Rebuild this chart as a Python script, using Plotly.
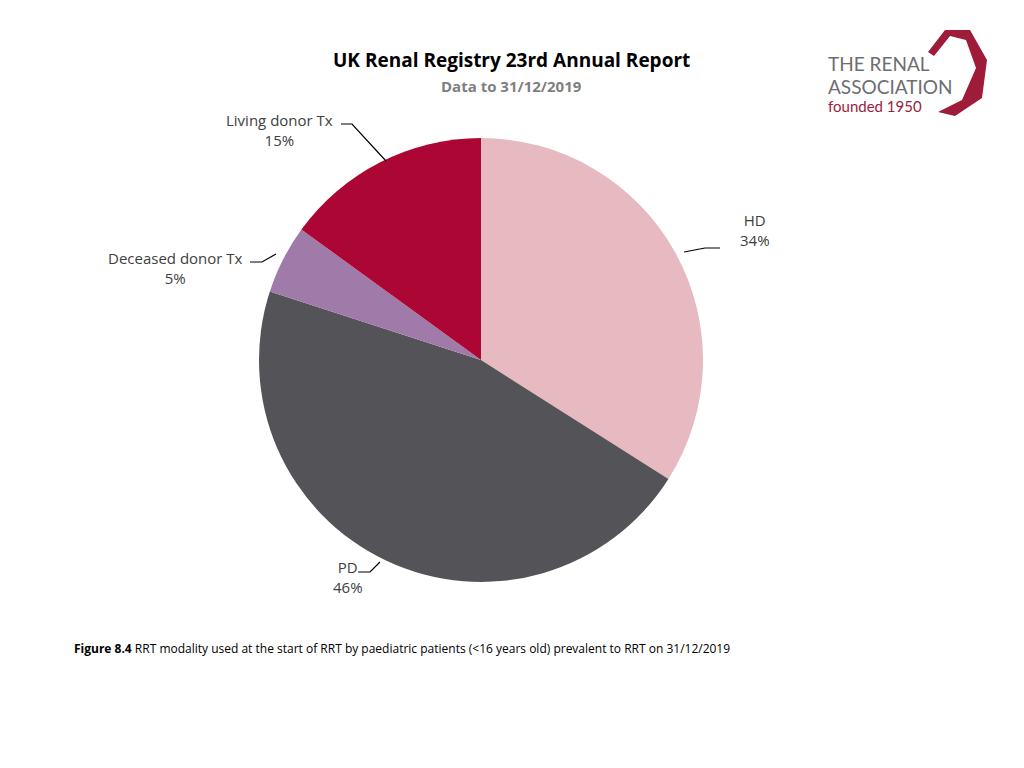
import plotly.graph_objects as go

labels = ["HD", "PD", "Deceased donor Tx", "Living donor Tx"]
values = [34, 46, 5, 15]
colors = ["#E6BAC0", "#545458", "#A07AA8", "#AC0634"]

W, H = 1024, 768
OFF = 8
def px(x, y):
    return (x - OFF) / W, 1 - (y - OFF) / H

fig = go.Figure(go.Pie(
    labels=labels, values=values, sort=False, direction="clockwise", rotation=0,
    marker=dict(colors=colors, line=dict(width=0)), textinfo="none", hoverinfo="label+percent",
    domain=dict(x=[(481-OFF-222)/W, (481-OFF+222)/W], y=[(768-360+OFF-222)/H, (768-360+OFF+222)/H]),
    showlegend=False))

ann = []
def text(x, y, t, size=15, color="#404040", bold=False, xanchor="center", family="Open Sans"):
    xx, yy = px(x, y)
    ann.append(dict(x=xx, y=yy, xref="paper", yref="paper", text=f"<b>{t}</b>" if bold else t,
                    showarrow=False, xanchor=xanchor, yanchor="middle",
                    font=dict(size=size, color=color, family=family)))

text(511, 60, "UK Renal Registry 23rd Annual Report", 19, "#000000", True)
text(511, 86, "Data to 31/12/2019", 15, "#7F7F7F", True)
text(72, 648, "<b>Figure 8.4</b> RRT modality used at the start of RRT by paediatric patients (<16 years old) prevalent to RRT on 31/12/2019",
     12, "#000000", xanchor="left")

pct = {l: f"{v}%" for l, v in zip(labels, values)}
text(279, 130, f"Living donor Tx<br>{pct['Living donor Tx']}", 15)
text(755, 230, f"HD<br>{pct['HD']}", 15)
text(175, 268, f"Deceased donor Tx<br>{pct['Deceased donor Tx']}", 15)
text(348, 577, f"PD<br>{pct['PD']}", 15)

shapes = []
def line(pts):
    path = "M " + " L ".join(f"{px(x,y)[0]},{px(x,y)[1]}" for x, y in pts)
    shapes.append(dict(type="path", path=path, xref="paper", yref="paper",
                       line=dict(color="#000000", width=1.2)))
line([(341, 124), (352, 124), (386, 161)])
line([(720, 248), (705, 248), (684, 252)])
line([(250, 262), (262, 262), (276, 254)])
line([(358, 572), (370, 572), (380, 562)])

# logo
text(826, 63, "THE RENAL", 19, "#6D6E71", xanchor="left", family="Lato")
text(826, 86, "ASSOCIATION", 19, "#6D6E71", xanchor="left", family="Lato")
text(826, 106, "founded 1950", 15, "#9E1B3A", xanchor="left", family="Lato")
p = [(928, 52), (945, 30), (970, 30), (987, 60), (982, 98), (955, 116), (938, 112),
     (962, 100), (976, 68), (966, 40), (950, 36), (934, 56)]
path = "M " + " L ".join(f"{px(x,y)[0]},{px(x,y)[1]}" for x, y in p) + " Z"
shapes.append(dict(type="path", path=path, xref="paper", yref="paper",
                   fillcolor="#9E1B3A", line=dict(width=0)))

fig.update_layout(width=W, height=H, margin=dict(l=0, r=0, t=0, b=0),
                  paper_bgcolor="white", plot_bgcolor="white",
                  annotations=ann, shapes=shapes)
fig.write_html("out.html")
